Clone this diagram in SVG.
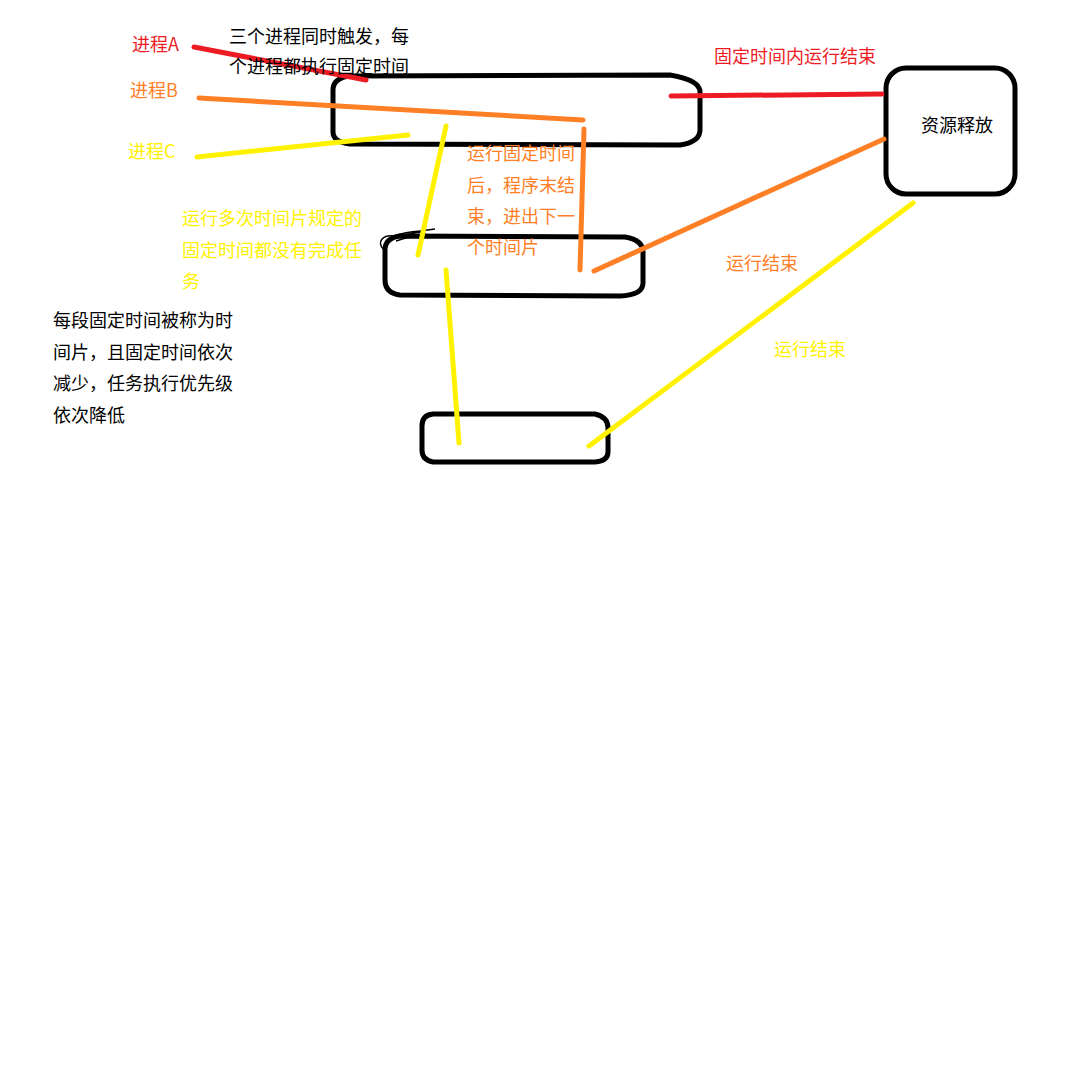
<svg xmlns="http://www.w3.org/2000/svg" width="1077" height="1089" viewBox="0 0 1077 1089">
<style>
text{font-family:"Noto Sans CJK SC","Liberation Sans",sans-serif;font-size:18px}
.box{fill:none;stroke:#000;stroke-width:5}
.ln{fill:none;stroke-width:5;stroke-linecap:round}
.r{stroke:#ED1C24}.o{stroke:#FF7F27}.y{stroke:#FFF200}
.tr{fill:#ED1C24}.to{fill:#FF7F27}.ty{fill:#FFF200}.tk{fill:#000}
</style>
<rect width="1077" height="1089" fill="#fff"/>
<g id="node-slice1"><path class="box" d="M350,76 L670,75 Q700,80 700,92 L700,130 Q700,142 680,145 L350,144 Q333,142 333,132 L333,90 Q333,78 350,76 Z"/></g>
<g id="node-slice2"><path class="box" d="M400,236 L625,237 Q643,240 643,252 L643,283 Q643,295 620,296 L400,295 Q385,293 385,280 L385,250 Q385,238 400,236 Z"/>
<path fill="none" stroke="#000" stroke-width="1.5" d="M384,250 Q378,244 382,239 Q386,235 394,236 Q405,232 420,231 L435,229 M392,239 Q408,233 424,232 M396,241 Q410,236 426,234"/></g>
<g id="node-slice3"><path class="box" d="M433,414 L595,414 Q608,417 608,428 L608,452 Q608,461 595,462 L433,462 Q422,460 422,450 L422,426 Q422,415 433,414 Z"/></g>
<g id="node-release"><rect class="box" x="886" y="68" width="129" height="126" rx="20"/>
<text class="tk" x="921" y="132">资源释放</text></g>
<g id="connectors">
<line class="ln r" x1="194" y1="47" x2="366" y2="80"/>
<line class="ln r" x1="671" y1="96" x2="882" y2="94"/>
<line class="ln o" x1="199" y1="98" x2="583" y2="120"/>
<line class="ln o" x1="584" y1="129" x2="580" y2="270"/>
<line class="ln o" x1="594" y1="271" x2="884" y2="139"/>
<line class="ln y" x1="197" y1="157" x2="408" y2="135"/>
<line class="ln y" x1="446" y1="126" x2="418" y2="255"/>
<line class="ln y" x1="446" y1="270" x2="459" y2="443"/>
<line class="ln y" x1="589" y1="446" x2="913" y2="203"/>
</g>
<g id="labels">
<text class="tr" x="132" y="51">进程A</text>
<text class="to" x="130" y="97">进程B</text>
<text class="ty" x="128" y="158">进程C</text>
<text class="tk" x="229" y="43">三个进程同时触发，每</text>
<text class="tk" x="229" y="73">个进程都执行固定时间</text>
<text class="tr" x="714" y="63">固定时间内运行结束</text>
<text class="to" x="467" y="160">运行固定时间</text>
<text class="to" x="467" y="192">后，程序末结</text>
<text class="to" x="467" y="223">束，进出下一</text>
<text class="to" x="467" y="254">个时间片</text>
<text class="ty" x="182" y="225">运行多次时间片规定的</text>
<text class="ty" x="182" y="257">固定时间都没有完成任</text>
<text class="ty" x="182" y="288">务</text>
<text class="tk" x="53" y="327">每段固定时间被称为时</text>
<text class="tk" x="53" y="359">间片，且固定时间依次</text>
<text class="tk" x="53" y="390">减少，任务执行优先级</text>
<text class="tk" x="53" y="422">依次降低</text>
<text class="to" x="726" y="270">运行结束</text>
<text class="ty" x="774" y="356">运行结束</text>
</g>
</svg>
